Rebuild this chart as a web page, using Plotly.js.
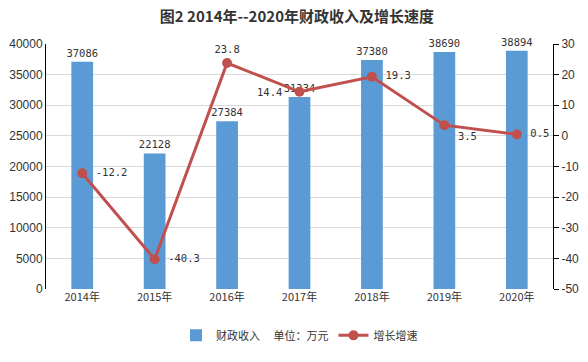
<!DOCTYPE html>
<html><head><meta charset="utf-8">
<script src="https://cdn.plot.ly/plotly-3.0.1.min.js"></script>
<style>body{margin:0}#c{width:588px;height:362px}</style>
</head><body><div id="c"></div>
<script>
const years = ['2014年','2015年','2016年','2017年','2018年','2019年','2020年'];
const revenue = [37086, 22128, 27384, 31334, 37380, 38690, 38894];
const growth = [-12.2, -40.3, 23.8, 14.4, 19.3, 3.5, 0.5];
const growthPos = ['middle right','middle right','top center','left','middle right','bottom right','middle right'];
const leftTicks = [0, 5000, 10000, 15000, 20000, 25000, 30000, 35000, 40000];
const rightTicks = [-50, -40, -30, -20, -10, 0, 10, 20, 30];
const mono = 'DejaVu Sans Mono, monospace';
const cjk = 'Noto Sans CJK SC, sans-serif';
const lblFont = {family:mono, size:10.5, color:'#333'};
const data = [
  {type:'bar', x:years, y:revenue, name:'财政收入　 单位：万元', marker:{color:'#5B9BD5'},
   width:0.3, text:revenue.map(String), textposition:'outside', cliponaxis:false, constraintext:'none',
   textfont:lblFont},
  {type:'scatter', mode:'lines+markers+text', x:years, y:growth, yaxis:'y2', name:'增长增速',
   line:{color:'#C0504D', width:3}, marker:{color:'#C0504D', size:10},
   text:growth.map((v,i)=> growthPos[i]==='left' ? '' : ' '+String(v)+' '),
   textposition:growthPos.map(p=>p==='left'?'middle left':p), cliponaxis:false,
   textfont:lblFont}
];
const leftLabels = growth.map((v,i)=>({v,i})).filter(o=>growthPos[o.i]==='left').map(o=>({
  x:years[o.i], y:o.v, xref:'x', yref:'y2', text:String(o.v), showarrow:false,
  xanchor:'right', yanchor:'middle', xshift:-16, font:lblFont
}));
const tf = {family:'Liberation Sans, Arial', size:12, color:'#333'};
const layout = {
  width:588, height:362, margin:{l:46, r:35, t:44, b:60},
  paper_bgcolor:'#fff', plot_bgcolor:'#fff',
  title:{text:'<b>图2 2014年--2020年财政收入及增长速度</b>', x:0.505, xanchor:'center', y:0.955, yanchor:'middle',
    font:{family:cjk, size:15, color:'#333'}},
  font:{family:cjk, size:11, color:'#333'},
  annotations:leftLabels,
  xaxis:{type:'category', showline:false, ticks:'', tickfont:{family:cjk, size:11, color:'#333'}},
  yaxis:{range:[0,40000], tickvals:leftTicks, ticktext:leftTicks.map(String), showline:true, linecolor:'#000', linewidth:1,
    gridcolor:'#d9d9d9', ticks:'', tickfont:tf, zeroline:false},
  yaxis2:{range:[-50,30], tickvals:rightTicks, ticktext:rightTicks.map(String), overlaying:'y', side:'right', showline:true, linecolor:'#000',
    ticks:'outside', ticklen:5, tickcolor:'#000', showgrid:false, zeroline:false, tickfont:tf},
  legend:{orientation:'h', x:0.5, xanchor:'center', y:-0.13, yanchor:'top',
    font:{family:cjk, size:11, color:'#333'}}
};
Plotly.newPlot('c', data, layout, {displayModeBar:false});
</script></body></html>
